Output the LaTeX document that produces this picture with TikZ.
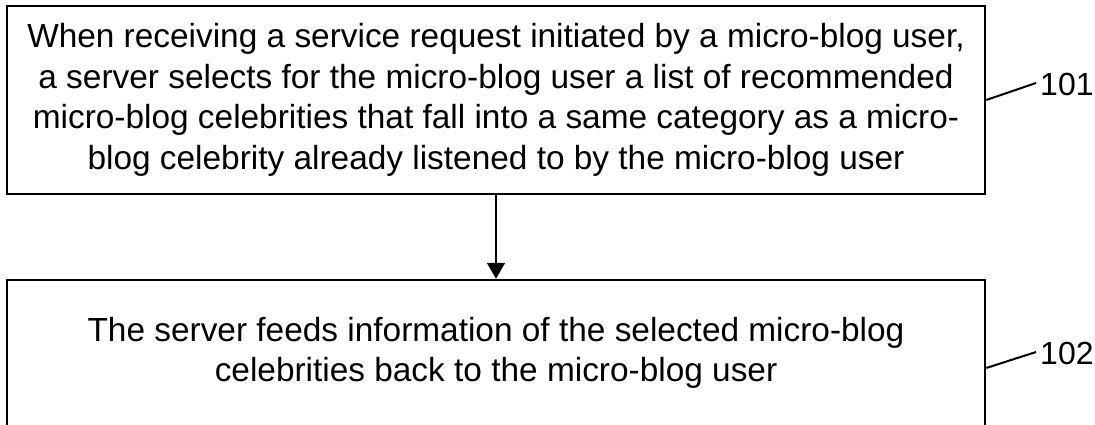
\documentclass[tikz,border=0pt]{standalone}
\usepackage{fontspec}
\setmainfont{Liberation Sans}
\usetikzlibrary{arrows.meta}
\begin{document}
\begin{tikzpicture}[x=1pt,y=-1pt,
  stepbox/.style={draw=black,line width=2.5pt,rectangle,align=center,inner sep=0pt,
    font=\fontsize{33.4}{40.5}\selectfont},
  reflabel/.style={anchor=west,inner sep=0pt,font=\fontsize{32}{38}\selectfont},
  leader/.style={line width=2pt},
  flow/.style={line width=2pt,-{Triangle[length=16pt,width=18pt]}}]
\useasboundingbox (0,0) rectangle (1095,425);

\node[stepbox,minimum width=978pt,minimum height=188pt] (s1) at (496,100)
  {When receiving a service request initiated by a micro-blog user,\\
   a server selects for the micro-blog user a list of recommended\\
   micro-blog celebrities that fall into a same category as a micro-\\
   blog celebrity already listened to by the micro-blog user};

\node[stepbox,minimum width=978pt,minimum height=146pt] (s2) at (496,353)
  {The server feeds information of the selected micro-blog\\
   celebrities back to the micro-blog user};

\draw[flow] (s1.south) -- (s2.north);

\node[reflabel] (l1) at (1040,84) {101};
\node[reflabel] (l2) at (1040,353) {102};

\draw[leader] (s1.east) -- ([xshift=-4pt,yshift=1pt]l1.west);
\draw[leader] ([yshift=-15pt]s2.east) -- ([xshift=-4pt,yshift=1pt]l2.west);
\end{tikzpicture}
\end{document}
